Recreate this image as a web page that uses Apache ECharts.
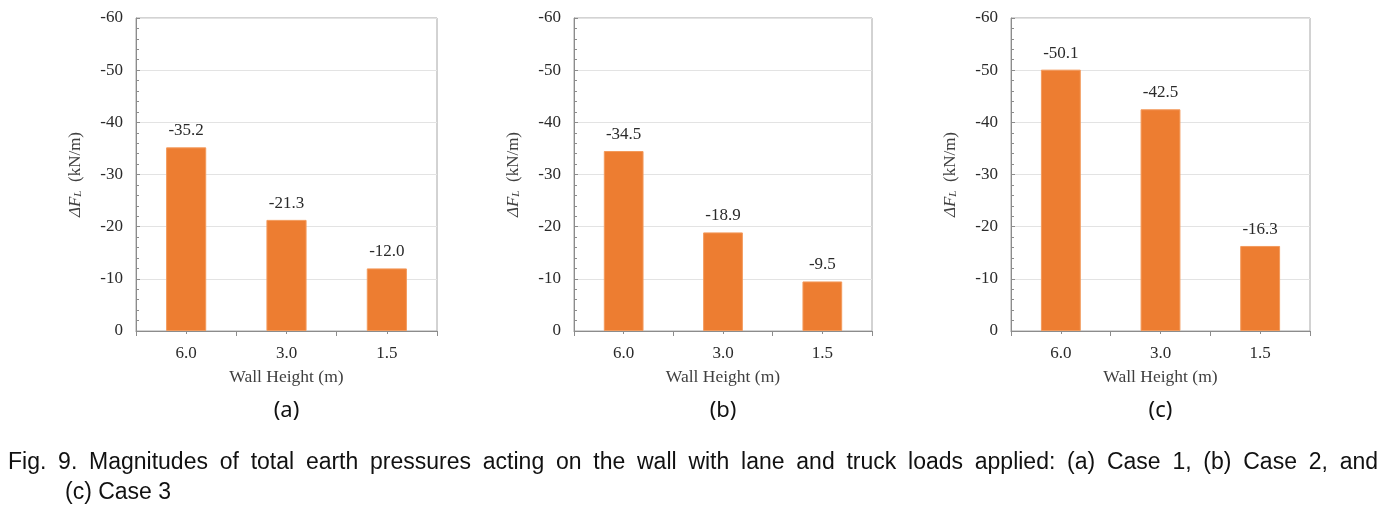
<!DOCTYPE html>
<html>
<head>
<meta charset="utf-8">
<script src="https://cdn.jsdelivr.net/npm/echarts@6/dist/echarts.min.js"></script>
<style>
html,body{margin:0;padding:0;background:#fff;}
#main{width:1388px;height:511px;}
</style>
</head>
<body>
<div id="main"></div>
<script>
// ---- data ----
const categories = ['6.0', '3.0', '1.5'];
const caseA = [-35.2, -21.3, -12.0];
const caseB = [-34.5, -18.9, -9.5];
const caseC = [-50.1, -42.5, -16.3];
const panelLabels = ['(a)', '(b)', '(c)'];
const yTicks = { min: -60, max: 0, interval: 10 };
const xName = 'Wall Height (m)';
const captionLine1 = 'Fig. 9. Magnitudes of total earth pressures acting on the wall with lane and truck loads applied: (a) Case 1, (b) Case 2, and';
const captionLine2 = '(c) Case 3';

const seriesData = [caseA, caseB, caseC];
const grids = [
  { left: 136, top: 18, width: 301, height: 313 },
  { left: 574, top: 18, width: 298, height: 313 },
  { left: 1011, top: 18, width: 299, height: 313 }
];

const serif = 'Liberation Serif';
const axisGray = '#8c8c8c';
const txt = '#2a2a2a';

const option = {
  animation: false,
  backgroundColor: '#fff',
  grid: grids.map(g => Object.assign({ show: true, borderColor: '#a6a6a6', borderWidth: 1, backgroundColor: 'transparent' }, g)),
  xAxis: [],
  yAxis: [],
  series: [],
  graphic: []
};

grids.forEach((g, i) => {
  option.xAxis.push({
    type: 'category', gridIndex: i, data: categories, position: 'bottom',
    name: xName, nameLocation: 'middle', nameGap: 37,
    nameTextStyle: { fontFamily: serif, fontSize: 17.5, color: '#404040' },
    axisLine: { lineStyle: { color: axisGray, width: 1 } },
    axisTick: { show: true, length: 5, lineStyle: { color: axisGray } },
    axisLabel: { fontFamily: serif, fontSize: 17, color: txt, margin: 14 },
    splitLine: { show: false }
  });
  option.xAxis.push({
    type: 'category', gridIndex: i, data: categories, position: 'bottom', offset: 0,
    axisLine: { show: false },
    axisTick: { show: true, alignWithLabel: true, length: 3, lineStyle: { color: axisGray } },
    axisLabel: { show: false },
    splitLine: { show: false }
  });
  option.yAxis.push({
    type: 'value', gridIndex: i, inverse: true,
    min: yTicks.min, max: yTicks.max, interval: yTicks.interval,
    name: '{i|ΔF}{s|L}{n|  (kN/m)}',
    nameLocation: 'middle', nameGap: 52, nameRotate: 90,
    nameTextStyle: {
      color: '#404040',
      rich: {
        i: { fontFamily: serif, fontStyle: 'italic', fontSize: 17, color: '#404040' },
        s: { fontFamily: serif, fontStyle: 'italic', fontSize: 11, color: '#404040', verticalAlign: 'bottom', padding: [6, 0, 0, 0] },
        n: { fontFamily: serif, fontSize: 17, color: '#404040' }
      }
    },
    axisLine: { show: true, lineStyle: { color: axisGray, width: 1 } },
    axisTick: { show: true, inside: true, length: 4, lineStyle: { color: axisGray } },
    minorTick: { show: true, splitNumber: 5, length: 3, lineStyle: { color: axisGray } },
    axisLabel: { fontFamily: serif, fontSize: 17, color: txt, margin: 13 },
    splitLine: { show: true, lineStyle: { color: '#e3e3e3', width: 1 } },
    minorSplitLine: { show: false }
  });
  option.series.push({
    type: 'bar', xAxisIndex: i * 2, yAxisIndex: i,
    data: seriesData[i],
    barWidth: '40%',
    itemStyle: { color: '#ED7D31', borderColor: '#F39A5C', borderWidth: 1 },
    label: {
      show: true, position: 'top', distance: 8,
      fontFamily: serif, fontSize: 17, color: txt,
      formatter: p => p.value.toFixed(1)
    }
  });
  option.graphic.push({
    type: 'text', x: g.left + g.width / 2, y: 411,
    style: { text: panelLabels[i], fontFamily: 'Noto Sans', fontSize: 22, fill: '#111', align: 'center', verticalAlign: 'middle' }
  });
});

// justified caption line 1 (word positions computed from measured widths)
const capFont = '23px "Liberation Sans"';
const cv = document.createElement('canvas').getContext('2d');
cv.font = capFont;
const words = captionLine1.split(' ');
const widths = words.map(w => cv.measureText(w).width);
const lineStart = 8, lineEnd = 1378;
const gap = (lineEnd - lineStart - widths.reduce((a, b) => a + b, 0)) / (words.length - 1);
let cx = lineStart;
words.forEach((w, k) => {
  option.graphic.push({
    type: 'text', x: cx, y: 463,
    style: { text: w, font: capFont, fill: '#111', verticalAlign: 'middle' }
  });
  cx += widths[k] + gap;
});
option.graphic.push({
  type: 'text', x: 65, y: 493,
  style: { text: captionLine2, font: capFont, fill: '#111', verticalAlign: 'middle' }
});

const chart = echarts.init(document.getElementById('main'), null, { renderer: 'canvas' });
chart.setOption(option);
</script>
</body>
</html>
